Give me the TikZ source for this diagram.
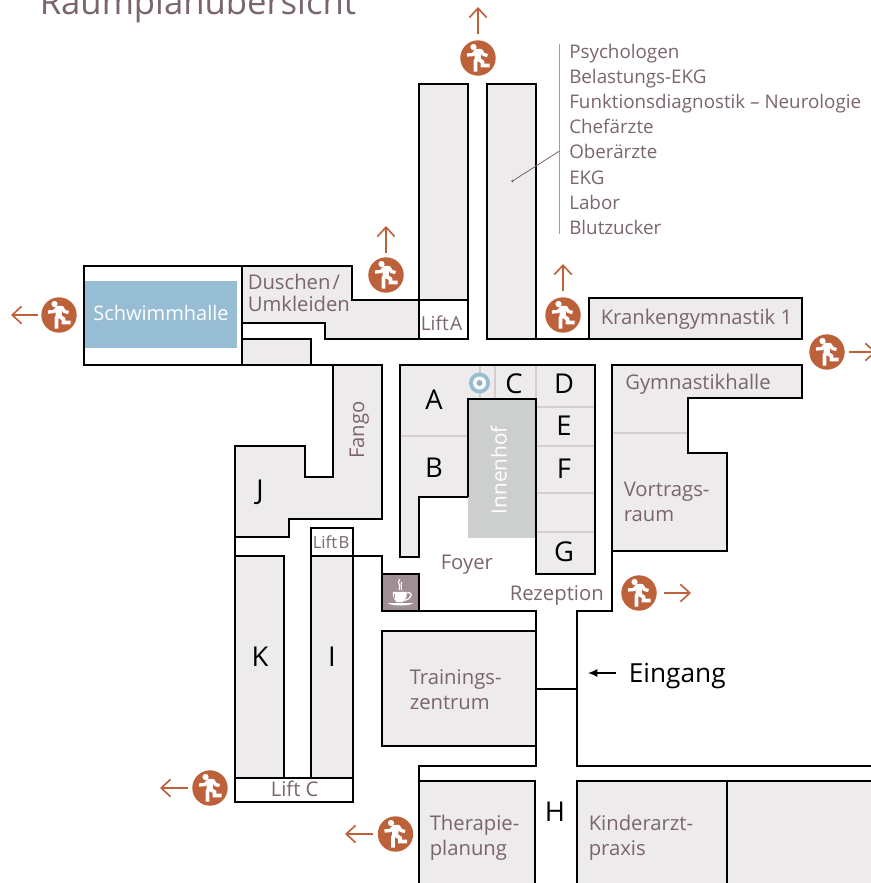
\documentclass[tikz,border=0pt]{standalone}
\usepackage{fontspec}
\setmainfont{Open Sans}
\definecolor{roomgrey}{HTML}{EDEBEC}
\definecolor{labeltext}{HTML}{7B656D}
\definecolor{divider}{HTML}{D6CDD0}
\definecolor{exitcol}{HTML}{BD613B}
\definecolor{pool}{HTML}{96BDD3}
\definecolor{court}{HTML}{CDCFCE}
\definecolor{cafe}{HTML}{A08E95}
\definecolor{rule}{HTML}{A89A9F}
\usetikzlibrary{arrows.meta}
\tikzset{
  x=0.75pt,y=-0.75pt,
  wall/.style={draw=black,line width=1.75pt,line join=miter},
  room/.style={wall,fill=roomgrey},
  plain/.style={wall,fill=white},
  divline/.style={draw=divider,line width=0.9pt},
  lbl/.style={text=labeltext,font=\fontsize{15.2}{15.2}\selectfont,anchor=base west,inner sep=0pt,align=left},
  listlbl/.style={lbl,font=\fontsize{14.1}{14.1}\selectfont},
  whitelbl/.style={text=white,font=\fontsize{15}{15}\selectfont,inner sep=0pt},
  letter/.style={text=black,font=\fontsize{20.5}{20.5}\selectfont,anchor=base,inner sep=0pt},
  exitarrow/.style={draw=exitcol,line width=1.25pt,-{Straight Barb[length=7pt,width=13pt,line width=1.25pt]}},
  runner/.pic={
    \fill[exitcol] (0,0) circle[radius=17.7];
    \fill[white] (-4.5,-11) circle[radius=3.1];
    \draw[white,line width=2.5pt,line join=round]
      (-11,-3) -- (-5,-3.5) -- (-1.5,-7.5) -- (3,-7.5) -- (5.5,-3.5) -- (9.5,-2.5);
    \fill[white] (-3.2,-8.3) -- (3.6,-8.3) -- (2.5,3) -- (-3.4,3) -- cycle;
    \draw[white,line width=2.9pt,line join=miter]
      (0,1) -- (4.5,4) -- (4.5,7.5) -- (11.5,7.5);
    \draw[white,line width=2.9pt,line join=miter]
      (-1,1) -- (-2.5,3) -- (-2.5,13.5);
  }
}
\begin{document}
\begin{tikzpicture}
\useasboundingbox (0,0) rectangle (871,883);
\begin{scope}
\clip (0,0) rectangle (871,883);
% title
\node[lbl,font=\fontsize{26}{26}\selectfont] (title) at (39.5,14) {Raumplanübersicht};

% pool wing
\path[plain] (84,266) rectangle (242,365);
\fill[pool] (85.2,281) rectangle (237,348);
\node[whitelbl,anchor=base] (pooltext) at (161,320) {Schwimmhalle};
\path[room] (242,266) -- (352,266) -- (352,300) -- (419,300) -- (419,339) -- (325,339) -- (325,323) -- (242,323) -- cycle;
\path[room] (242,339) -- (311,339) -- (311,365) -- (242,365) -- cycle;
\draw[wall] (311,365) -- (333,365);

% top corridors
\path[room] (419,84) rectangle (468,300);
\path[plain] (419,300) rectangle (468,339);
\path[room] (487,84) rectangle (536,339);
\draw[wall] (536,339) -- (589,339);
\path[room] (589,298) rectangle (802,339);

% Fango / J
\path[room] (333,365) -- (382,365) -- (382,519) -- (289,519) -- (289,537) -- (235,537) -- (235,446) -- (305,446) -- (305,477) -- (333,477) -- cycle;
\draw[wall] (235,537) -- (235,556);
\path[room] (235,556) rectangle (284,778);
\path[room] (311,556) rectangle (353,778);
\path[plain] (311,528) rectangle (353,556);
\path[plain] (235,778) rectangle (353,802);
\draw[wall] (353,556) -- (382,556) -- (382,574);

% cafe
\path[wall,fill=cafe] (382,574) rectangle (419,611);
\draw[wall] (419,611) -- (536,611) -- (536,766) -- (419,766) -- (419,781);
\path[room] (382,631) rectangle (536,746);
\draw[wall] (536,689) -- (577,689);

% central block
\path[room] (400,365) -- (595,365) -- (595,574) -- (536,574) -- (536,399) -- (468,399) -- (468,497) -- (419,497) -- (419,557) -- (400,557) -- cycle;
\fill[court] (468,399) rectangle (536,538);
\draw[divline] (401,436) -- (467,436);
\draw[divline] (480,366) -- (480,398);
\draw[divline] (495,366) -- (495,398);
\draw[divline] (536,366) -- (536,398);
\draw[divline] (537,407) -- (594,407);
\draw[divline] (537,446) -- (594,446);
\draw[divline] (537,493) -- (594,493);
\draw[divline] (537,532) -- (594,532);
\draw[wall] (468,497) -- (468,399) -- (536,399) -- (536,574);
\fill[pool] (479.5,383) circle[radius=10.5];
\fill[white] (479.5,383) circle[radius=6.5];
\fill[pool!80!gray] (479.5,383) circle[radius=3];

% right wing
\path[room] (612,365) -- (802,365) -- (802,398) -- (688,398) -- (688,453) -- (727,453) -- (727,551) -- (612,551) -- cycle;
\draw[divline] (613,433) -- (687,433);
\draw[wall] (612,551) -- (612,611) -- (577,611) -- (577,766) -- (880,766);

% bottom rooms
\path[room] (419,781) rectangle (535,900);
\path[room] (577,781) rectangle (727,900);
\path[room] (727,781) rectangle (890,900);

% labels on rooms
\node[lbl] (duschen) at (247.5,289) {Duschen\kern1.5pt/};
\node[lbl] (umkleiden) at (247.5,311) {Umkleiden};
\node[lbl,font=\fontsize{14.4}{14.4}\selectfont] (lifta) at (420.5,330) {Lift\kern1pt A};
\node[lbl] (kranken) at (600.5,324) {Krankengymnastik 1};
\node[lbl] (gym) at (625,389) {Gymnastikhalle};
\node[lbl] (vortrags) at (623.5,496) {Vortrags-};
\node[lbl] (raum) at (623.5,521) {raum};
\node[lbl,rotate=90] (fango) at (364,459) {Fango};
\node[whitelbl,font=\fontsize{15.6}{15.6}\selectfont,rotate=90,anchor=base west] (innenhof) at (506.5,514.5) {Innenhof};
\node[lbl,font=\fontsize{12.5}{12.5}\selectfont] (liftb) at (312.5,548) {Lift\kern1pt B};
\node[lbl] (foyer) at (440.5,569) {Foyer};
\node[lbl] (rezeption) at (509.5,600) {Rezeption};
\node[lbl] (trainings) at (409.5,684) {Trainings-};
\node[lbl] (zentrum) at (409.5,709) {zentrum};
\node[lbl] (liftc) at (270.5,796) {Lift C};
\node[lbl] (therapie) at (429.5,830) {Therapie-};
\node[lbl] (planung) at (429.5,855) {planung};
\node[lbl] (kinder) at (588.5,830) {Kinderarzt-};
\node[lbl] (praxis) at (588.5,855) {praxis};

% letters
\node[letter] (A) at (434,409) {A};
\node[letter] (B) at (434,477) {B};
\node[letter] (C) at (514,393) {C};
\node[letter] (D) at (564,393) {D};
\node[letter] (E) at (564,435) {E};
\node[letter] (F) at (564,478) {F};
\node[letter] (G) at (564,561) {G};
\node[letter] (J) at (260,499) {J};
\node[letter] (K) at (260,666) {K};
\node[letter] (I) at (332,666) {I};
\node[letter] (H) at (555,821) {H};

% list
\draw[rule,line width=0.8pt] (559.5,44) -- (559.5,234);
\coordinate (leaderdot) at (512.5,181);
\coordinate (leaderend) at (559.5,151);
\draw[labeltext,line width=0.6pt] (leaderdot) -- (leaderend);
\fill[labeltext] (leaderdot) circle[radius=1.4];
\node[listlbl] (l1) at (569,58) {Psychologen};
\node[listlbl] (l2) at (569,83) {Belastungs-EKG};
\node[listlbl] (l3) at (569,108) {Funktionsdiagnostik – Neurologie};
\node[listlbl] (l4) at (569,133) {Chefärzte};
\node[listlbl] (l5) at (569,158) {Oberärzte};
\node[listlbl] (l6) at (569,184) {EKG};
\node[listlbl] (l7) at (569,209) {Labor};
\node[listlbl] (l8) at (569,234) {Blutzucker};

% Eingang
\node[text=black,font=\fontsize{19.7}{19.7}\selectfont,anchor=base west,inner sep=0pt] (eingang) at (628.5,682) {Eingang};
\coordinate (eingangtip) at (588,673);
\coordinate (eingangtail) at (616,673);
\draw[black,line width=0.9pt,-{Latex[length=7pt,width=6pt]}] (eingangtail) -- (eingangtip);

% exits
\pic at (59,315) {runner};
\coordinate (e1a) at (38,315); \coordinate (e1b) at (11,315);
\draw[exitarrow] (e1a) -- (e1b);
\pic at (386,275) {runner};
\coordinate (e2a) at (386,253); \coordinate (e2b) at (386,226);
\draw[exitarrow] (e2a) -- (e2b);
\pic at (478,58) {runner};
\coordinate (e3a) at (478,34); \coordinate (e3b) at (478,7);
\draw[exitarrow] (e3a) -- (e3b);
\pic at (563,315) {runner};
\coordinate (e4a) at (563,291); \coordinate (e4b) at (563,264);
\draw[exitarrow] (e4a) -- (e4b);
\pic at (827,352) {runner};
\coordinate (e5a) at (849,352); \coordinate (e5b) at (876,352);
\draw[exitarrow] (e5a) -- (e5b);
\pic at (639,593) {runner};
\coordinate (e6a) at (664,593); \coordinate (e6b) at (691,593);
\draw[exitarrow] (e6a) -- (e6b);
\pic at (210,788) {runner};
\coordinate (e7a) at (188,788); \coordinate (e7b) at (160,788);
\draw[exitarrow] (e7a) -- (e7b);
\pic at (395.5,834) {runner};
\coordinate (e8a) at (373,834); \coordinate (e8b) at (345,834);
\draw[exitarrow] (e8a) -- (e8b);

% cup
\fill[white] (392.8,591.8) -- (406.8,591.8) .. controls (406.8,597) and (405.5,600) .. (403,602) -- (396.5,602) .. controls (394,600) and (392.8,597) .. (392.8,591.8) -- cycle;
\draw[white,line width=0.9pt] (406.5,593) .. controls (413.5,591.5) and (413,598) .. (404.5,600.5);
\fill[white] (388,603.2) -- (413,603.2) .. controls (410,606.2) and (391,606.2) .. (388,603.2) -- cycle;
\draw[cafe,line width=0.5pt] (394.8,594) -- (394.8,598);
\draw[white,line width=0.8pt] (400,579) .. controls (396,583) and (402,585) .. (399,590);
\draw[white,line width=0.8pt] (402,582) .. controls (399.5,585) and (403,586.5) .. (401.5,590);
\end{scope}
\end{tikzpicture}
\end{document}
